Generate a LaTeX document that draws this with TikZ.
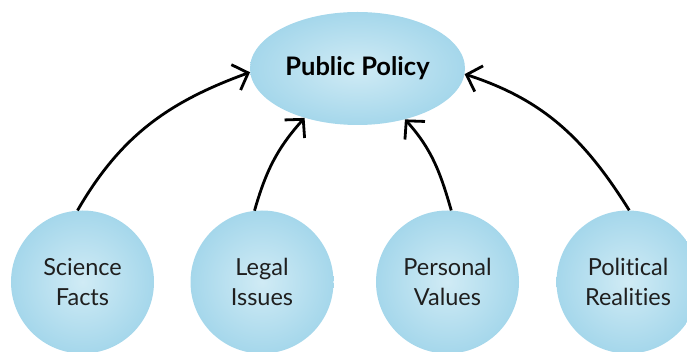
\documentclass[tikz,border=0pt]{standalone}
\usepackage{fontspec}
\setmainfont{Lato}[Ligatures=NoCommon]
\usetikzlibrary{arrows.meta,shapes.geometric}
\definecolor{ballin}{RGB}{208,235,245}
\definecolor{ballmid}{RGB}{165,215,235}
\definecolor{ballout}{RGB}{125,196,224}
\pgfdeclareradialshading{ball}{\pgfpoint{0bp}{0bp}}{color(0bp)=(ballin); color(25bp)=(ballmid); color(50bp)=(ballout); color(100bp)=(ballout)}
\begin{document}
\begin{tikzpicture}[x=1pt,y=1pt,
  bubble/.style={circle,minimum size=143pt,inner sep=0pt,shading=ball,
     font=\fontsize{23.5}{30}\selectfont,text=black!88,align=center},
  topic/.style={ellipse,minimum width=215pt,minimum height=113pt,inner sep=0pt,
     shading=ball,font=\fontsize{25.5}{30}\selectfont\bfseries},
  link/.style={line width=2.8pt,-{Straight Barb[length=13pt,width=27pt,line width=2.8pt]}}]
\useasboundingbox (0,0) rectangle (687,352);
\clip (0,0) rectangle (687,352);
\node[topic] (pp) at (357.5,283.5) {Public Policy};
\node[bubble] (sf) at (82.5,70) {Science\\Facts};
\node[bubble] (li) at (262,70) {Legal\\Issues};
\node[bubble] (pv) at (447.5,70) {Personal\\Values};
\node[bubble] (pr) at (628,70) {Political\\Realities};
\draw[link] (sf.94) to[out=60,in=200] (pp.182);
\draw[link] (li.96) to[out=74,in=228] (pp.223);
\draw[link] (pv.87) to[out=106,in=-48] (pp.313);
\draw[link] (pr.89) to[out=122,in=-18] (pp.-3.5);
\end{tikzpicture}
\end{document}
